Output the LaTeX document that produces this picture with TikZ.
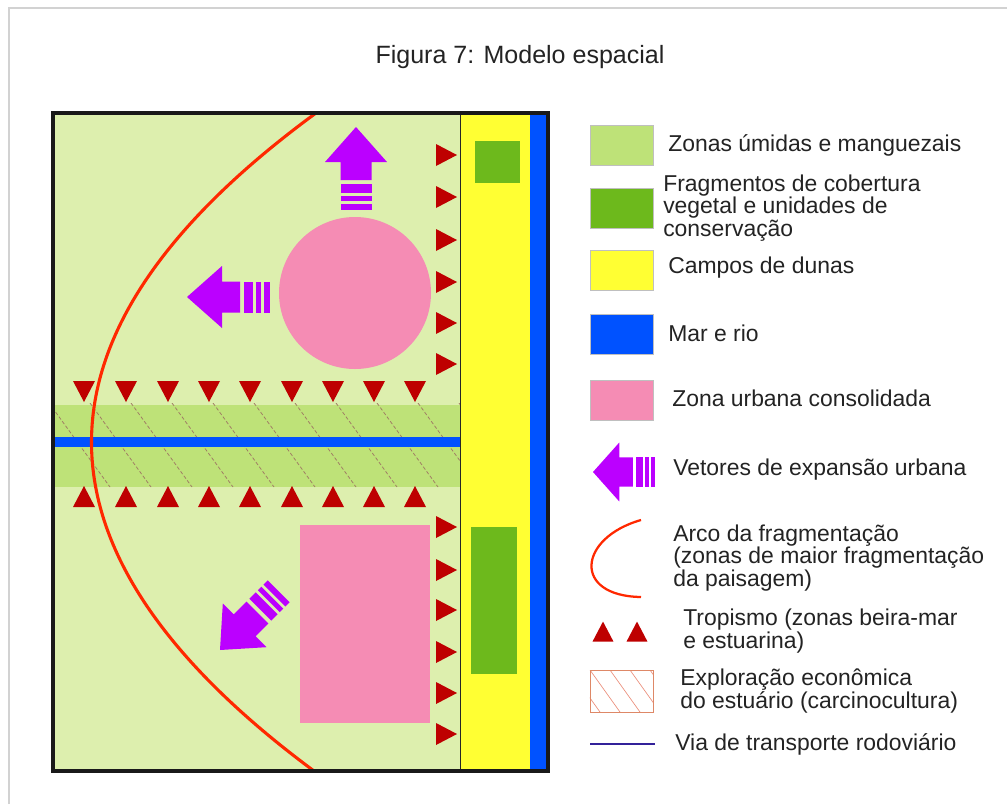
\documentclass[tikz,border=0pt]{standalone}
\usepackage{fontspec}
\setmainfont{Liberation Sans}
\usetikzlibrary{positioning, shapes.geometric, calc}

\definecolor{umida}{RGB}{221,239,174}
\definecolor{mangue}{RGB}{190,226,120}
\definecolor{fragmento}{RGB}{109,185,28}
\definecolor{duna}{RGB}{255,255,51}
\definecolor{mar}{RGB}{0,82,255}
\definecolor{urbano}{RGB}{245,140,180}
\definecolor{vetorcor}{RGB}{187,0,255}
\definecolor{tropcor}{RGB}{190,0,0}
\definecolor{arcocor}{RGB}{255,40,0}
\definecolor{texto}{RGB}{35,35,35}
\definecolor{hachura}{RGB}{160,125,100}
\definecolor{hachleg}{RGB}{235,140,120}

\begin{document}
\begin{tikzpicture}[
    x=0.025cm, y=-0.025cm,
    swatch/.style={rectangle, draw=gray!50, line width=0.4pt, minimum width=1.575cm, minimum height=1.0cm, inner sep=0},
    legenda/.style={anchor=west, inner sep=0, text=texto, font=\fontsize{16.3}{15.8}\selectfont, align=left},
    titulo/.style={inner sep=0, text=texto, font=\fontsize{17.8}{19}\selectfont},
    hatch/.style={hachura, line width=0.55pt, dash pattern=on 2.5pt off 1.5pt},
    arcofrag/.style={arcocor, line width=2.2pt},
    tri/.pic={\fill[tropcor] (-11,10) -- (11,10) -- (0,-11) -- cycle;},
    vetor/.pic={
        \fill[vetorcor] (0,0) -- (35,-31) -- (35,-15.5) -- (53,-15.5) -- (53,15.5) -- (35,15.5) -- (35,31) -- cycle;
        \fill[vetorcor] (57,-15.5) rectangle (66,15.5);
        \fill[vetorcor] (69,-15.5) rectangle (74,15.5);
        \fill[vetorcor] (77,-15.5) rectangle (83,15.5);
    }
]
\useasboundingbox (0,0) rectangle (1007,804);
\draw[gray!35, line width=1.4pt] (9,804) -- (9,8) -- (1007,8);

% titulo
\node[titulo] (titulo) at (520,57) {Figura 7: Modelo espacial};

% mapa
\fill[umida] (53,113) rectangle (460,771);
\fill[duna] (460,113) rectangle (530,771);
\fill[mar] (530,113) rectangle (548,771);
\fill[fragmento] (475,141) rectangle (520,183);
\fill[fragmento] (471,527) rectangle (517,674);

% estuario
\fill[mangue] (53,405) rectangle (460,487);
\begin{scope}
    \clip (53,403) rectangle (460,487);
    \foreach \i in {-1,...,9}
        \draw[hatch] ({90+41*\i},403) -- ++(61,84);
\end{scope}
\fill[mar] (53,437) rectangle (460,447);

% zona urbana
\fill[urbano] (355,293) circle (76);
\fill[urbano] (300,525) rectangle (430,723);

% tropismo
\foreach \x in {84,126,168,209,250,292,333,374,415} {
    \pic[rotate=180] at (\x,391) {tri};
    \pic at (\x,497) {tri};
}
\foreach \y in {155,197,240,282,323,364,527,570,610,652,693,734}
    \pic[rotate=-90] at (446,\y) {tri};

% vetores de expansao
\pic[rotate=-90] at (356,127) {vetor};
\pic at (187,297) {vetor};
\pic[rotate=45] at (220,650) {vetor};

% arco da fragmentacao
\begin{scope}
    \clip (53,113) rectangle (548,771);
    \draw[arcofrag] (316,113) .. controls (17,332) and (17,551) .. (314,771);
\end{scope}

\draw[black!85, line width=0.6pt] (460,113) -- (460,771);
\draw[black!90, line width=2.2pt] (53,113) rectangle (548,771);

% legenda
\node[swatch, fill=mangue] (swUmida) at (621.5,145.5) {};
\node[swatch, fill=fragmento] (swFrag) at (621.5,208.5) {};
\node[swatch, fill=duna] (swDuna) at (621.5,270) {};
\node[swatch, fill=mar] (swMar) at (621.5,334.5) {};
\node[swatch, fill=urbano] (swUrb) at (621.5,400) {};
\node[swatch, draw=hachleg!70!brown, fill=white, minimum height=1.05cm,
    path picture={\foreach \i in {-3,...,3}
        \draw[hachleg, line width=0.45pt] ($(path picture bounding box.north west)+({20*\i},0)$) -- ++(30,42);}
    ] (swHatch) at (621.5,691) {};

\pic[xscale=0.75, yscale=0.95] at (593,472) {vetor};
\draw[arcofrag, line width=1.6pt] (641,520) .. controls (578,538) and (572,596) .. (641,597);
\pic[scale=0.95] at (603,632) {tri};
\pic[scale=0.95] at (637,632) {tri};
\draw[mar!50!violet!80!black, line width=1.2pt] (590,744) -- (655,744);

\node[legenda] (tUmida) at (668,145) {Zonas úmidas e manguezais};
\node[legenda] (tFrag) at (663,208) {Fragmentos de cobertura\\vegetal e unidades de\\conservação};
\node[legenda] (tDuna) at (668,268) {Campos de dunas};
\node[legenda] (tMar) at (668,333) {Mar e rio};
\node[legenda] (tUrb) at (672,398) {Zona urbana consolidada};
\node[legenda] (tVetor) at (673,470) {Vetores de expansão urbana};
\node[legenda] (tArco) at (673,558) {Arco da fragmentação\\(zonas de maior fragmentação\\da paisagem)};
\node[legenda] (tTrop) at (683,631) {Tropismo (zonas beira-mar\\e estuarina)};
\node[legenda] (tHatch) at (680,691) {Exploração econômica\\do estuário (carcinocultura)};
\node[legenda] (tVia) at (675,744) {Via de transporte rodoviário};
\end{tikzpicture}
\end{document}
